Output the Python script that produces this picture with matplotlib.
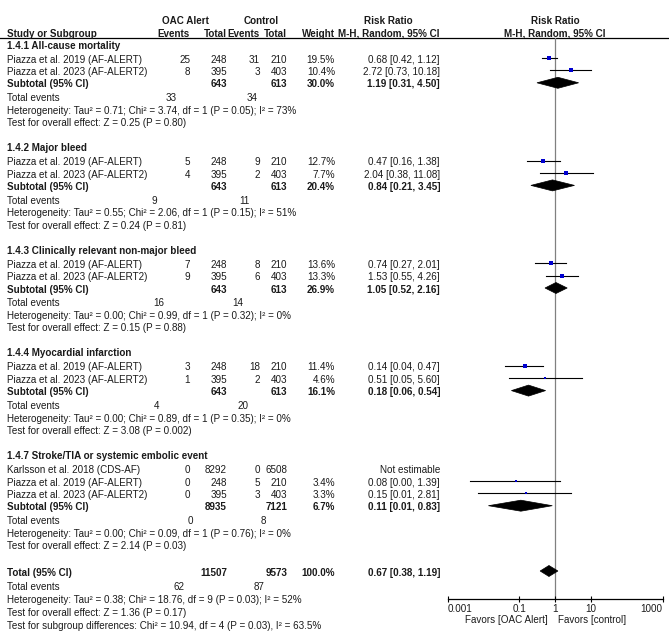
import matplotlib
matplotlib.use('Agg')
import matplotlib.pyplot as plt
from matplotlib.patches import Polygon

plt.rcParams['font.family'] = ['Liberation Sans', 'DejaVu Sans']
plt.rcParams['font.size'] = 7.1

# ---- data ----
group_titles = ['1.4.1 All-cause mortality', '1.4.2 Major bleed',
                '1.4.3 Clinically relevant non-major bleed', '1.4.4 Myocardial infarction',
                '1.4.7 Stroke/TIA or systemic embolic event']
study_names = [['Piazza et al. 2019 (AF-ALERT)', 'Piazza et al. 2023 (AF-ALERT2)'],
               ['Piazza et al. 2019 (AF-ALERT)', 'Piazza et al. 2023 (AF-ALERT2)'],
               ['Piazza et al. 2019 (AF-ALERT)', 'Piazza et al. 2023 (AF-ALERT2)'],
               ['Piazza et al. 2019 (AF-ALERT)', 'Piazza et al. 2023 (AF-ALERT2)'],
               ['Karlsson et al. 2018 (CDS-AF)', 'Piazza et al. 2019 (AF-ALERT)',
                'Piazza et al. 2023 (AF-ALERT2)']]
exp_events = [[25, 8], [5, 4], [7, 9], [3, 1], [0, 0, 0]]
exp_total = [[248, 395], [248, 395], [248, 395], [248, 395], [8292, 248, 395]]
ctl_events = [[31, 3], [9, 2], [8, 6], [18, 2], [0, 5, 3]]
ctl_total = [[210, 403], [210, 403], [210, 403], [210, 403], [6508, 210, 403]]
weights = [[19.5, 10.4], [12.7, 7.7], [13.6, 13.3], [11.4, 4.6], [None, 3.4, 3.3]]
rr = [[0.68, 2.72], [0.47, 2.04], [0.74, 1.53], [0.14, 0.51], [None, 0.08, 0.15]]
rr_lo = [[0.42, 0.73], [0.16, 0.38], [0.27, 0.55], [0.04, 0.05], [None, 0.0043, 0.0072]]
rr_hi = [[1.12, 10.18], [1.38, 11.08], [2.01, 4.26], [0.47, 5.60], [None, 1.39, 2.81]]

sub_exp_total = [643, 643, 643, 643, 8935]
sub_ctl_total = [613, 613, 613, 613, 7121]
sub_weight = [30.0, 20.4, 26.9, 16.1, 6.7]
sub_rr = [1.19, 0.84, 1.05, 0.18, 0.11]
sub_lo = [0.31, 0.21, 0.52, 0.06, 0.0137]
sub_hi = [4.50, 3.45, 2.16, 0.54, 0.83]
te_exp = [33, 9, 16, 4, 0]
te_ctl = [34, 11, 14, 20, 8]
tau2 = ['0.71', '0.55', '0.00', '0.00', '0.00']
chi2 = ['3.74', '2.06', '0.99', '0.89', '0.09']
het_df = [1, 1, 1, 1, 1]
het_p = ['0.05', '0.15', '0.32', '0.35', '0.76']
i2 = [73, 51, 0, 0, 0]
z_val = ['0.25', '0.24', '0.15', '3.08', '2.14']
z_p = ['0.80', '0.81', '0.88', '0.002', '0.03']

tot_exp_total, tot_ctl_total, tot_weight = 11507, 9573, 100.0
tot_rr, tot_lo, tot_hi = 0.67, 0.38, 1.19
tot_te_exp, tot_te_ctl = 62, 87
tot_het = 'Heterogeneity: Tau\u00b2 = 0.38; Chi\u00b2 = 18.76, df = 9 (P = 0.03); I\u00b2 = 52%'
tot_z = 'Test for overall effect: Z = 1.36 (P = 0.17)'
subgroup_test = 'Test for subgroup differences: Chi\u00b2 = 10.94, df = 4 (P = 0.03), I\u00b2 = 63.5%'

# ---- layout (pixels) ----
W, H = 669, 639
x_name, x_ev1, x_tot1, x_ev2, x_tot2, x_wt, x_rr = 7, 190, 227, 260, 287, 335, 440
te_x1 = [171, 154, 159, 157, 190, 179]
te_x2 = [252, 244, 238, 243, 263, 259]
f_left, f_right, f_top, f_bot = 447.7, 662.7, 38, 599
txt_dy = 1.6
txt_col = '#1a1a1a'

fig = plt.figure(figsize=(W / 100, H / 100), dpi=100)
ax = fig.add_axes([0, 0, 1, 1])
ax.set_xlim(0, W)
ax.set_ylim(H, 0)
ax.axis('off')

axf = fig.add_axes([f_left / W, (H - f_bot) / H, (f_right - f_left) / W, (f_bot - f_top) / H])
axf.set_xscale('log')
axf.set_xlim(0.001, 1000)
axf.set_ylim(f_bot, f_top)
axf.patch.set_alpha(0)
for s in ['top', 'left', 'right']:
    axf.spines[s].set_visible(False)
axf.spines['bottom'].set_linewidth(0.9)
axf.set_yticks([])
axf.set_xticks([0.001, 0.1, 1, 10, 1000])
axf.set_xticklabels(['0.001', '0.1', '1', '10', '1000'])
axf.xaxis.set_minor_locator(matplotlib.ticker.NullLocator())
axf.tick_params(axis='x', direction='inout', length=5, width=0.8, pad=1, labelsize=7.1,
                labelcolor=txt_col)
labs = axf.get_xticklabels()
labs[0].set_horizontalalignment('left')
labs[-1].set_horizontalalignment('right')
axf.axvline(1, color='#808080', lw=0.9, zorder=1)


def t(x, y, s, ha='left', bold=False):
    ax.text(x, y + txt_dy, s, ha=ha, va='center', fontweight='bold' if bold else 'normal',
            color=txt_col)


def diamond(y, c, lo, hi, h=5.5):
    axf.add_patch(Polygon([(lo, y), (c, y - h), (hi, y), (c, y + h)], closed=True,
                          facecolor='black', edgecolor='black', lw=0.5, zorder=3))


# header
t(185, 19, 'OAC Alert', 'center', True)
t(261, 19, 'Control', 'center', True)
t(388, 19, 'Risk Ratio', 'center', True)
t(555, 19, 'Risk Ratio', 'center', True)
t(x_name, 32, 'Study or Subgroup', bold=True)
t(x_ev1, 32, 'Events', 'right', True)
t(x_tot1, 32, 'Total', 'right', True)
t(x_ev2, 32, 'Events', 'right', True)
t(x_tot2, 32, 'Total', 'right', True)
t(x_wt, 32, 'Weight', 'right', True)
t(x_rr, 32, 'M-H, Random, 95% CI', 'right', True)
t(555, 32, 'M-H, Random, 95% CI', 'center', True)
ax.plot([0, W], [38, 38], color='black', lw=0.9)

y = 44
for g in range(len(group_titles)):
    t(x_name, y, group_titles[g], bold=True)
    y += 14
    for i in range(len(study_names[g])):
        t(x_name, y, study_names[g][i])
        t(x_ev1, y, str(exp_events[g][i]), 'right')
        t(x_tot1, y, str(exp_total[g][i]), 'right')
        t(x_ev2, y, str(ctl_events[g][i]), 'right')
        t(x_tot2, y, str(ctl_total[g][i]), 'right')
        if rr[g][i] is None:
            t(x_rr, y, 'Not estimable', 'right')
        else:
            t(x_wt, y, f'{weights[g][i]:.1f}%', 'right')
            t(x_rr, y, f'{rr[g][i]:.2f} [{rr_lo[g][i]:.2f}, {rr_hi[g][i]:.2f}]', 'right')
            axf.plot([rr_lo[g][i], rr_hi[g][i]], [y, y], color='black', lw=0.8, zorder=2)
            axf.plot([rr[g][i]], [y], marker='s', color='#0000d0', markeredgewidth=0,
                     markersize=0.5 * weights[g][i] ** 0.5 + 0.8, zorder=4)
        y += 12.5
    y -= 0.2
    t(x_name, y, 'Subtotal (95% CI)', bold=True)
    t(x_tot1, y, str(sub_exp_total[g]), 'right', True)
    t(x_tot2, y, str(sub_ctl_total[g]), 'right', True)
    t(x_wt, y, f'{sub_weight[g]:.1f}%', 'right', True)
    t(x_rr, y, f'{sub_rr[g]:.2f} [{sub_lo[g]:.2f}, {sub_hi[g]:.2f}]', 'right', True)
    diamond(y, sub_rr[g], sub_lo[g], sub_hi[g])
    y += 13.5
    t(x_name, y, 'Total events')
    t(te_x1[g], y, str(te_exp[g]), 'center')
    t(te_x2[g], y, str(te_ctl[g]), 'center')
    y += 12.8
    t(x_name, y, f'Heterogeneity: Tau\u00b2 = {tau2[g]}; Chi\u00b2 = {chi2[g]}, df = {het_df[g]} '
                 f'(P = {het_p[g]}); I\u00b2 = {i2[g]}%')
    y += 12.5
    t(x_name, y, f'Test for overall effect: Z = {z_val[g]} (P = {z_p[g]})')
    y += 25

y = 571
t(x_name, y, 'Total (95% CI)', bold=True)
t(x_tot1, y, str(tot_exp_total), 'right', True)
t(x_tot2, y, str(tot_ctl_total), 'right', True)
t(x_wt, y, f'{tot_weight:.1f}%', 'right', True)
t(x_rr, y, f'{tot_rr:.2f} [{tot_lo:.2f}, {tot_hi:.2f}]', 'right', True)
diamond(y, tot_rr, tot_lo, tot_hi)
t(x_name, 585, 'Total events')
t(te_x1[5], 585, str(tot_te_exp), 'center')
t(te_x2[5], 585, str(tot_te_ctl), 'center')
t(x_name, 598, tot_het)
t(x_name, 611, tot_z)
t(x_name, 624, subgroup_test)

t(548, 618, 'Favors [OAC Alert]', 'right')
t(558, 618, 'Favors [control]', 'left')

fig.savefig('out.png', dpi=100)
